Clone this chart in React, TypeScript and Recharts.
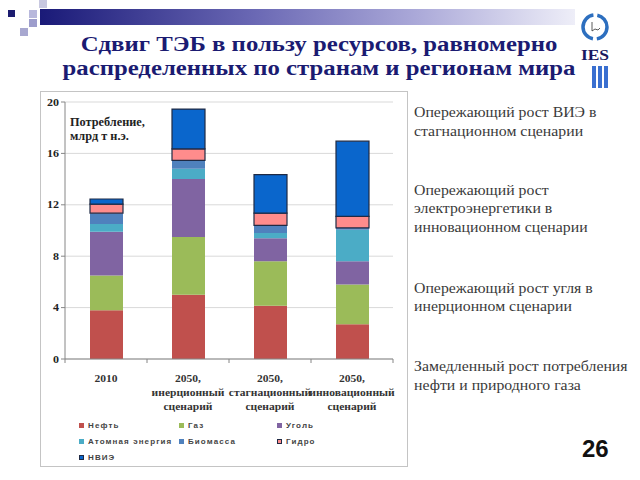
import { BarChart, Bar, XAxis, YAxis, CartesianGrid, Legend } from 'recharts';

// categories and stacked values, млрд т н.э.
const categories = [
  '2010',
  '2050,\nинерционный\nсценарий',
  '2050,\nстагнационный\nсценарий',
  '2050,\nинновационный\nсценарий',
];
const oil = [3.8, 5.0, 4.15, 2.7];
const gas = [2.7, 4.5, 3.45, 3.1];
const coal = [3.4, 4.5, 1.8, 1.8];
const nuclear = [0.6, 0.8, 0.4, 2.45];
const biomass = [0.85, 0.65, 0.6, 0.15];
const hydro = [0.7, 0.9, 0.95, 0.9];
const nvie = [0.4, 3.1, 3.0, 5.85];
const yTicks = [0, 4, 8, 12, 16, 20];

const SERIES = [
  { key: 'oil', name: 'Нефть', color: '#c0504d' },
  { key: 'gas', name: 'Газ', color: '#9bbb59' },
  { key: 'coal', name: 'Уголь', color: '#8064a2' },
  { key: 'nuclear', name: 'Атомная энергия', color: '#4bacc6' },
  { key: 'biomass', name: 'Биомасса', color: '#4f81bd' },
  { key: 'hydro', name: 'Гидро', color: '#ff8c8c', stroke: '#1f2a44' },
  { key: 'nvie', name: 'НВИЭ', color: '#0a66cc', stroke: '#1f2a44' },
];

const data = categories.map((category, i) => ({
  category,
  oil: oil[i],
  gas: gas[i],
  coal: coal[i],
  nuclear: nuclear[i],
  biomass: biomass[i],
  hydro: hydro[i],
  nvie: nvie[i],
}));

const notes = [
  ['Опережающий рост ВИЭ в', 'стагнационном сценарии'],
  ['Опережающий рост', 'электроэнергетики в', 'инновационном сценарии'],
  ['Опережающий рост угля в', 'инерционном сценарии'],
  ['Замедленный рост потребления', 'нефти и природного газа'],
];
const noteTops = [117.5, 195, 293, 371.5];

const W = 366;
const H = 374;
const MARGIN = { top: 10, right: 14, left: 0, bottom: 1 };
const Y_W = 24;
const BAND = (W - MARGIN.left - MARGIN.right - Y_W) / categories.length;

const SERIF = 'Liberation Serif, Tinos, Times New Roman, DejaVu Serif, serif';
const SANS = 'Liberation Sans, Arimo, Arial, sans-serif';
const serifText = { fontFamily: SERIF };

// the slide is stretched sideways a little, so text is widened to match
const CategoryTick = (props: any) => {
  const { x, y, payload, index } = props;
  const lines = String(payload.value).split('\n');
  return (
    <g transform={`translate(${x},${y})`}>
      <line x1={-BAND / 2} x2={-BAND / 2} y1={0} y2={4} stroke="#868686" />
      {index === categories.length - 1 && (
        <line x1={BAND / 2} x2={BAND / 2} y1={0} y2={4} stroke="#868686" />
      )}
      <g transform="scale(1.05,1)">
        <text textAnchor="middle" style={serifText} fontSize={11} fontWeight="bold" fill="#333">
          {lines.map((l, i) => (
            <tspan key={i} x={0} y={23 + i * 14}>
              {l}
            </tspan>
          ))}
        </text>
      </g>
    </g>
  );
};

const ValueTick = (props: any) => {
  const { x, y, payload } = props;
  return (
    <g transform={`translate(${x},${y})`}>
      <g transform="scale(1.2,1)">
        <text textAnchor="end" dy={3.5} style={serifText} fontSize={10} fontWeight="bold" fill="#222">
          {payload.value}
        </text>
      </g>
    </g>
  );
};

const renderLegend = () => (
  <div
    style={{
      display: 'grid',
      gridTemplateColumns: '100px 98px 90px',
      paddingLeft: 38,
      height: 48,
      fontFamily: SANS,
      fontSize: 8,
      fontWeight: 'bold',
      letterSpacing: 1.1,
      color: '#444',
    }}
  >
    {SERIES.map((s) => (
      <div key={s.key} style={{ display: 'flex', alignItems: 'center', height: 16 }}>
        <span
          style={{
            display: 'inline-block',
            width: 5,
            height: 5,
            background: s.color,
            boxSizing: 'border-box',
            border: s.stroke ? `1px solid ${s.stroke}` : 'none',
          }}
        />
        <span style={{ marginLeft: 4, whiteSpace: 'nowrap' }}>{s.name}</span>
      </div>
    ))}
  </div>
);

export default function App() {
  return (
    <div
      style={{
        position: 'absolute',
        left: 0,
        top: 0,
        width: 640,
        height: 480,
        background: '#fff',
        overflow: 'hidden',
      }}
    >
      <div
        style={{
          position: 'absolute',
          left: 40,
          top: 91,
          width: 368,
          height: 376,
          border: '1px solid #c4c4c4',
          boxSizing: 'border-box',
        }}
      >
        <BarChart width={W} height={H} data={data} margin={MARGIN} barSize={33}>
          <CartesianGrid vertical={false} stroke="#d9d9d9" />
          <XAxis
            dataKey="category"
            interval={0}
            height={58}
            tickSize={0}
            tickMargin={0}
            tickLine={false}
            axisLine={{ stroke: '#868686' }}
            tick={<CategoryTick />}
          />
          <YAxis
            domain={[0, 20]}
            ticks={yTicks}
            width={Y_W}
            tickSize={4}
            tickMargin={2}
            axisLine={{ stroke: '#868686' }}
            tickLine={{ stroke: '#868686' }}
            tick={<ValueTick />}
          />
          <YAxis
            yAxisId="frame"
            orientation="right"
            width={0}
            tick={false}
            tickLine={false}
            axisLine={{ stroke: '#d9d9d9' }}
          />
          <Legend
            verticalAlign="bottom"
            content={renderLegend}
            wrapperStyle={{ left: 0, width: W, height: 48, bottom: 1 }}
          />
          {SERIES.map((s) => (
            <Bar
              key={s.key}
              dataKey={s.key}
              name={s.name}
              stackId="a"
              fill={s.color}
              stroke={s.stroke ?? 'none'}
              strokeWidth={s.stroke ? 1.2 : 0}
              isAnimationActive={false}
            />
          ))}
        </BarChart>
      </div>

      <svg
        width={640}
        height={480}
        style={{ position: 'absolute', left: 0, top: 0, pointerEvents: 'none' }}
      >
        <defs>
          <linearGradient id="topBar" x1="0" y1="0" x2="1" y2="0">
            <stop offset="0%" stopColor="#1a1a78" />
            <stop offset="40%" stopColor="#6a68b4" />
            <stop offset="70%" stopColor="#aaa8d8" />
            <stop offset="100%" stopColor="#eeeef8" />
          </linearGradient>
        </defs>
        {/* slide decoration */}
        <rect x={40} y={9} width={535} height={16} fill="url(#topBar)" />
        <rect x={8} y={10} width={7} height={7} fill="#1c1c70" />
        <rect x={29} y={10} width={8} height={8} fill="#b8b8dc" />
        <rect x={39} y={0} width={8} height={8} fill="#c8c8e0" />
        <rect x={29} y={19} width={8} height={8} fill="#9d9dcc" />
        <rect x={20} y={28} width={8} height={8} fill="#a8a8d0" />

        {/* logo */}
        <circle
          cx={595}
          cy={27}
          r={12}
          fill="none"
          stroke="#2d6fbf"
          strokeWidth={3.5}
          strokeDasharray="16.85 4 33.7 4 16.85"
        />
        <path d="M592,22 L592,31 L595,29 L598,30 L600,28" fill="none" stroke="#333" strokeWidth={0.8} />
        <g transform="translate(595,60) scale(1.25,1)">
          <text x={0} y={0} textAnchor="middle" style={serifText} fontWeight="bold" fontSize={14} fill="#1a1a60">
            IES
          </text>
        </g>
        <rect x={592} y={66} width={4} height={22} fill="#3a6fd0" />
        <rect x={598} y={66} width={4} height={22} fill="#3a6fd0" />
        <rect x={604} y={66} width={4} height={22} fill="#3a6fd0" />

        {/* title */}
        <g transform="translate(319,0) scale(1.18,1)">
          <text x={0} y={51} textAnchor="middle" style={serifText} fontWeight="bold" fontSize={21} fill="#1b1b72">
            Сдвиг ТЭБ в пользу ресурсов, равномерно
          </text>
          <text x={0} y={75} textAnchor="middle" style={serifText} fontWeight="bold" fontSize={21} fill="#1b1b72">
            распределенных по странам и регионам мира
          </text>
        </g>

        {/* chart caption */}
        <g transform="translate(70,0) scale(1.07,1)">
          <text x={0} y={126} style={serifText} fontWeight="bold" fontSize={11.5} fill="#222">
            Потребление,
          </text>
          <text x={0} y={140} style={serifText} fontWeight="bold" fontSize={11.5} fill="#222">
            млрд т н.э.
          </text>
        </g>

        {/* notes */}
        <g transform="translate(414,0) scale(1.13,1)">
          {notes.map((block, b) =>
            block.map((line, i) => (
              <text
                key={`${b}-${i}`}
                x={0}
                y={noteTops[b] + i * 18.5}
                style={serifText}
                fontSize={14}
                fill="#3a3a3a"
              >
                {line}
              </text>
            ))
          )}
        </g>

        <text x={582} y={457} style={{ fontFamily: SANS }} fontWeight="bold" fontSize={24} fill="#111">
          26
        </text>
      </svg>
    </div>
  );
}
